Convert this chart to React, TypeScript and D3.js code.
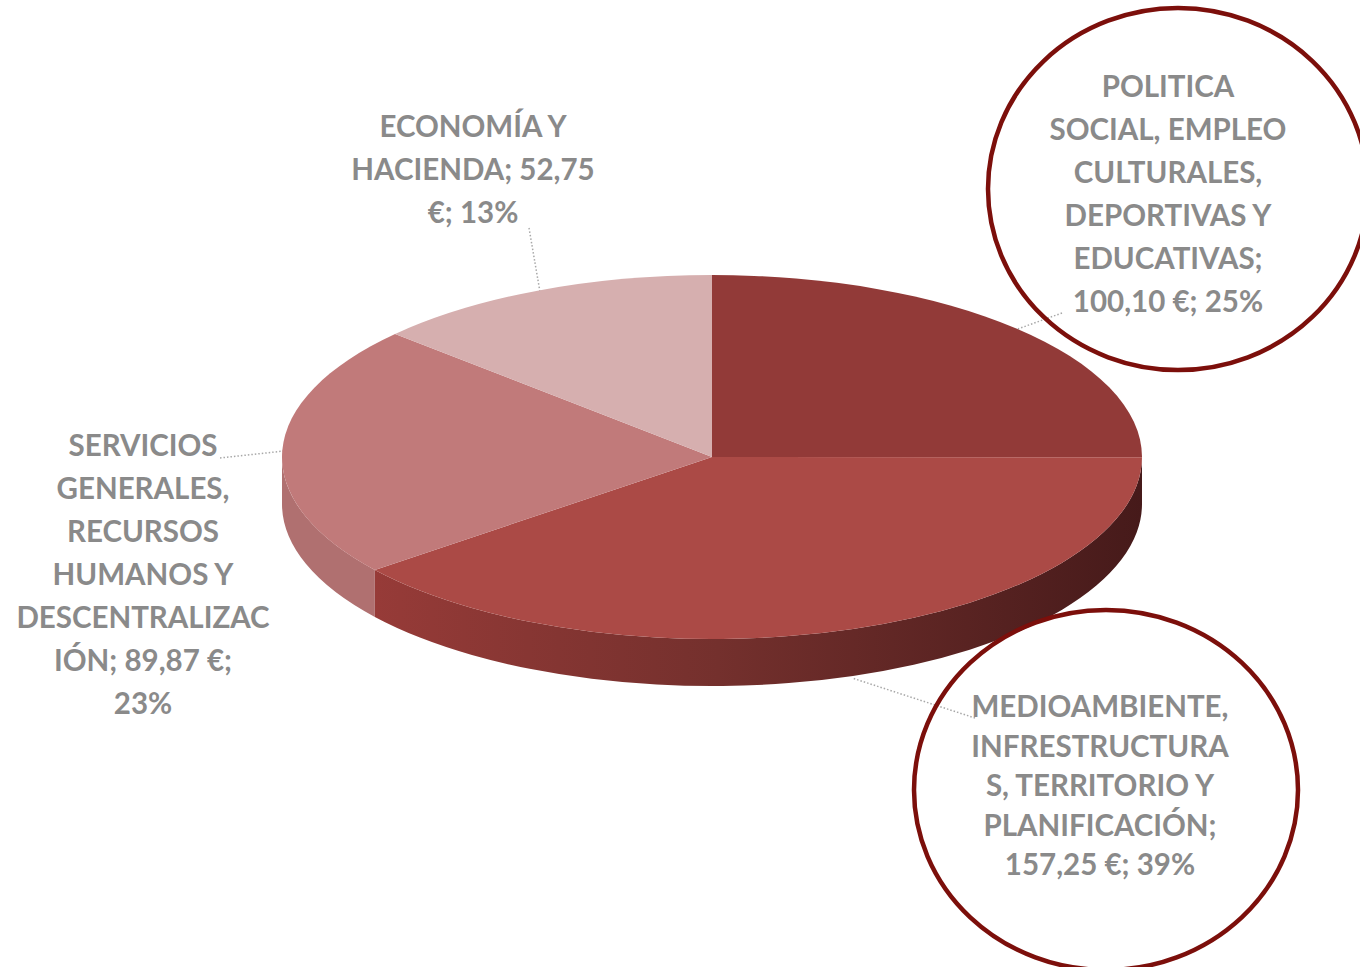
import React from "react";
import * as d3 from "d3";

const categories = [
  "POLITICA SOCIAL, EMPLEO CULTURALES, DEPORTIVAS Y EDUCATIVAS",
  "MEDIOAMBIENTE, INFRESTRUCTURAS, TERRITORIO Y PLANIFICACIÓN",
  "SERVICIOS GENERALES, RECURSOS HUMANOS Y DESCENTRALIZACIÓN",
  "ECONOMÍA Y HACIENDA",
];
const values = [100.1, 157.25, 89.87, 52.75];
const percents = ["25%", "39%", "23%", "13%"];
const labelLines = [
  ["POLITICA", "SOCIAL, EMPLEO", "CULTURALES,", "DEPORTIVAS Y", "EDUCATIVAS;", "100,10 €; 25%"],
  ["MEDIOAMBIENTE,", "INFRESTRUCTURA", "S, TERRITORIO Y", "PLANIFICACIÓN;", "157,25 €; 39%"],
  ["SERVICIOS", "GENERALES,", "RECURSOS", "HUMANOS Y", "DESCENTRALIZAC", "IÓN; 89,87 €;", "23%"],
  ["ECONOMÍA Y", "HACIENDA; 52,75", "€; 13%"],
];

// styling / layout (kept separate from data)
const topColors = ["#923a38", "#ab4a46", "#c17a7a", "#d6afaf"];
const sideColors = ["#7a2e2c", "url(#sideGrad)", "#b07070", "#b89090"];
const labelLayout = [
  { x: 1168, y: 97, lh: 43 },
  { x: 1100, y: 717, lh: 39.5 },
  { x: 143, y: 456, lh: 43 },
  { x: 473, y: 137, lh: 43 },
];
const leaders = [
  [[1062, 313], [1015, 330]],
  [[975, 718], [852, 678]],
  [[220, 458], [284, 451]],
  [[529, 228], [540, 292]],
];
const circles = [
  { cx: 1178, cy: 189, rx: 190, ry: 181 },
  { cx: 1106, cy: 790, rx: 192, ry: 180 },
];

const CX = 712, CY = 457, RX = 430, RY = 182, DEPTH = 47;

function pt(a: number, dy = 0): [number, number] {
  return [CX + RX * Math.sin(a), CY - RY * Math.cos(a) + dy];
}

export default function App() {
  const pie = d3.pie<number>().sort(null).value((d) => d)(values);

  const topPath = (a0: number, a1: number) => {
    const p0 = pt(a0), p1 = pt(a1);
    const large = a1 - a0 > Math.PI ? 1 : 0;
    return `M${CX},${CY}L${p0[0]},${p0[1]}A${RX},${RY} 0 ${large} 1 ${p1[0]},${p1[1]}Z`;
  };
  const sidePath = (a0: number, a1: number) => {
    const s = Math.max(a0, Math.PI / 2), e = Math.min(a1, (3 * Math.PI) / 2);
    if (e <= s) return null;
    const p0 = pt(s), p1 = pt(e), q1 = pt(e, DEPTH), q0 = pt(s, DEPTH);
    return `M${p0[0]},${p0[1]}A${RX},${RY} 0 0 1 ${p1[0]},${p1[1]}L${q1[0]},${q1[1]}A${RX},${RY} 0 0 0 ${q0[0]},${q0[1]}Z`;
  };

  return (
    <svg
      width={1360}
      height={967}
      style={{ position: "absolute", left: 0, top: 0, background: "#fff" }}
    >
      <defs>
        <linearGradient id="sideGrad" gradientUnits="userSpaceOnUse" x1={370} y1={0} x2={1142} y2={0}>
          <stop offset="0" stopColor="#973b38" />
          <stop offset="0.45" stopColor="#74302d" />
          <stop offset="1" stopColor="#461a1a" />
        </linearGradient>
      </defs>
      {leaders.map((l, i) => (
        <line
          key={"l" + i}
          x1={l[0][0]}
          y1={l[0][1]}
          x2={l[1][0]}
          y2={l[1][1]}
          stroke="#a8a8a8"
          strokeWidth={1.5}
          strokeDasharray="1.5 2"
        />
      ))}
      {pie.map((s, i) => {
        const d = sidePath(s.startAngle, s.endAngle);
        return d ? <path key={"s" + i} d={d} fill={sideColors[i]} /> : null;
      })}
      {pie.map((s, i) => (
        <path key={"t" + i} d={topPath(s.startAngle, s.endAngle)} fill={topColors[i]} />
      ))}
      {labelLines.map((lines, i) => (
        <text
          key={"tx" + i}
          textAnchor="middle"
          fontFamily="Lato, 'Open Sans', sans-serif"
          fontWeight={700}
          fontSize={29.5}
          fill="#8a8a8a"
        >
          <title>{categories[i] + "; " + values[i] + " €; " + percents[i]}</title>
          {lines.map((t, j) => (
            <tspan key={j} x={labelLayout[i].x} y={labelLayout[i].y + j * labelLayout[i].lh}>
              {t}
            </tspan>
          ))}
        </text>
      ))}
      {circles.map((c, i) => (
        <ellipse key={"c" + i} cx={c.cx} cy={c.cy} rx={c.rx} ry={c.ry} fill="none" stroke="#7c0f0b" strokeWidth={4.5} />
      ))}
    </svg>
  );
}
